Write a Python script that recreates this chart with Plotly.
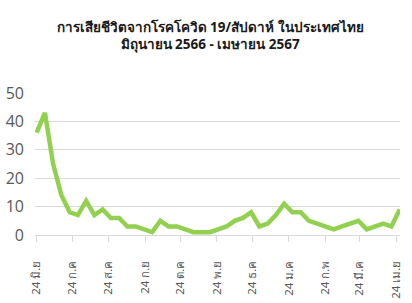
import plotly.graph_objects as go
import pandas as pd

start_date = "2023-06-24"
deaths = [36, 43, 25, 14, 8, 7, 12, 7, 9, 6, 6, 3, 3, 2, 1, 5, 3, 3, 2, 1,
          1, 1, 2, 3, 5, 6, 8, 3, 4, 7, 11, 8, 8, 5, 4, 3, 2, 3, 4, 5,
          2, 3, 4, 3, 9]
dates = pd.date_range(start_date, periods=len(deaths), freq="7D")

tick_dates = ["2023-06-24", "2023-07-24", "2023-08-24", "2023-09-24", "2023-10-24",
              "2023-11-24", "2023-12-24", "2024-01-24", "2024-02-24", "2024-03-24",
              "2024-04-24"]
tick_labels = ["24 มิ.ย", "24 ก.ค", "24 ส.ค", "24 ก.ย", "24 ต.ค", "24 พ.ย",
               "24 ธ.ค", "24 ม.ค", "24 ก.พ", "24 มี.ค", "24 เม.ย"]
y_ticks = [0, 10, 20, 30, 40, 50]

fig = go.Figure(go.Scatter(
    x=dates, y=deaths, mode="lines",
    line=dict(color="#92D050", width=4.5), hoverinfo="skip"))

fig.update_layout(
    width=412, height=303,
    margin=dict(l=35, r=12, t=93, b=68),
    paper_bgcolor="white", plot_bgcolor="white",
    showlegend=False,
    title=dict(
        text="การเสียชีวิตจากโรคโควิด 19/สัปดาห์ ในประเทศไทย<br>มิถุนายน 2566 - เมษายน 2567",
        x=0.51, xanchor="center", yref="container", y=0.895, yanchor="top",
        font=dict(family="Noto Sans", size=13.5, color="#1a1a1a", weight="bold")),
    xaxis=dict(
        range=[pd.Timestamp(dates[0]) - pd.Timedelta(days=1.4),
               pd.Timestamp(dates[-1]) + pd.Timedelta(days=0.3)],
        tickvals=tick_dates, ticktext=tick_labels, tickangle=-90,
        ticks="outside", ticklen=6, tickcolor="#d9d9d9",
        showline=True, linecolor="#d9d9d9", linewidth=1,
        showgrid=False, zeroline=False, automargin=False,
        ticklabelstandoff=14,
        tickfont=dict(family="Noto Sans", size=11.5, color="#595959")),
    yaxis=dict(
        range=[0, 50], tickvals=y_ticks,
        showgrid=True, gridcolor="#d9d9d9", gridwidth=1,
        zeroline=False, showline=False, ticks="",
        ticklabelstandoff=10, automargin=False,
        tickfont=dict(family="Open Sans", size=16, color="#595959")),
)

fig.write_html("out.html")
